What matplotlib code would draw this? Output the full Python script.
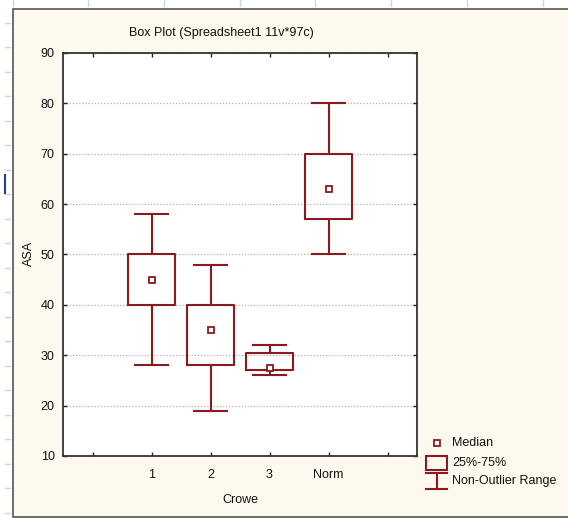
import matplotlib
matplotlib.use("Agg")
import matplotlib.pyplot as plt
from matplotlib.patches import Rectangle

plt.rcParams['font.family'] = ['Liberation Sans', 'DejaVu Sans']

# ---- data ----
categories = ['1', '2', '3', 'Norm']
whisker_low = [28, 19, 26, 50]
q1 = [40, 28, 27, 57]
median = [45, 35, 27.5, 63]
q3 = [50, 40, 30.4, 70]
whisker_high = [58, 48, 32, 80]
y_ticks = [10, 20, 30, 40, 50, 60, 70, 80, 90]
title = 'Box Plot (Spreadsheet1 11v*97c)'
x_label = 'Crowe'
y_label = 'ASA'
legend_labels = ['Median', '25%-75%', 'Non-Outlier Range']

RED = '#8b1a1e'
CREAM = '#fef9ee'
W, H = 568, 518

fig = plt.figure(figsize=(W / 100, H / 100), dpi=100)
fig.patch.set_facecolor('white')

# overlay axes in pixel coordinates for the panel decoration
bg = fig.add_axes([0, 0, 1, 1], zorder=0)
bg.set_xlim(0, W)
bg.set_ylim(H, 0)
bg.axis('off')
bg.add_patch(Rectangle((13, 9), W - 13 + 5, 516.5 - 9, facecolor=CREAM,
                       edgecolor='#555555', linewidth=1.2))
# ruler marks from the surrounding window
for yy in range(23, 516, 24):
    bg.plot([5, 10], [yy + (yy - 23) * 0.02, yy + (yy - 23) * 0.02], color='#c8d4e8', lw=1)
for xx in [13, 88, 164, 240, 315, 391, 467, 543]:
    bg.plot([xx, xx], [0, 6], color='#c8d4e8', lw=1)
bg.plot([5, 5], [175, 193], color='#1f3fa0', lw=1.5)

# main axes
L, T, R, B = 63, 53, 417, 456
ax = fig.add_axes([L / W, 1 - B / H, (R - L) / W, (B - T) / H], zorder=1)
ax.set_facecolor('white')

positions = list(range(1, len(categories) + 1))
stats = []
for i in range(len(categories)):
    stats.append(dict(med=median[i], q1=q1[i], q3=q3[i],
                      whislo=whisker_low[i], whishi=whisker_high[i],
                      fliers=[], label=categories[i]))
ax.bxp(stats, positions=positions, widths=0.8, capwidths=0.57,
       showfliers=False,
       boxprops=dict(color=RED, linewidth=1.5),
       whiskerprops=dict(color=RED, linewidth=1.5),
       capprops=dict(color=RED, linewidth=1.5),
       medianprops=dict(visible=False),
       manage_ticks=False, zorder=3)
ax.plot(positions, median, linestyle='none', marker='s', markersize=4.5,
        markerfacecolor='white', markeredgecolor=RED, markeredgewidth=1.3, zorder=4)

ax.set_xlim(-0.5, 5.5)
ax.set_ylim(10, 90)
ax.set_xticks(range(0, 6))
ax.set_xticklabels([''] + categories + [''])
ax.set_yticks(y_ticks)
ax.tick_params(direction='in', length=3, width=1, top=True, right=True,
               labelsize=9, color='#222222', labelcolor='#111111', pad=6)
ax.tick_params(axis='x', pad=9)
for s in ax.spines.values():
    s.set_color('#333333')
    s.set_linewidth(1.3)
ax.yaxis.grid(True, linestyle=(0, (1, 1.5)), color='#b0b0b0', linewidth=0.9)
ax.set_axisbelow(True)

# texts
fig.text(221 / W, 1 - 33 / H, title, ha='center', va='center', fontsize=9,
         color='#111111')
fig.text(240 / W, 1 - 500 / H, x_label, ha='center', va='center', fontsize=9,
         color='#111111')
fig.text(29 / W, 1 - 253 / H, y_label, ha='center', va='center', fontsize=9,
         rotation=90, color='#111111')

# legend (drawn in pixel coordinates)
bg2 = fig.add_axes([0, 0, 1, 1], zorder=2)
bg2.set_xlim(0, W)
bg2.set_ylim(H, 0)
bg2.axis('off')
bg2.plot([436.5], [443], linestyle='none', marker='s', markersize=4,
         markerfacecolor='white', markeredgecolor=RED, markeredgewidth=1.3)
bg2.add_patch(Rectangle((426, 456), 21, 14, facecolor='none', edgecolor=RED, lw=1.5))
bg2.plot([426, 447], [473, 473], color=RED, lw=1.5)
bg2.plot([426, 447], [489, 489], color=RED, lw=1.5)
bg2.plot([436.5, 436.5], [473, 489], color=RED, lw=1.5)
for yy, lab in zip([443, 463, 481], legend_labels):
    bg2.text(452, yy, lab, ha='left', va='center', fontsize=9, color='#111111')

fig.savefig('out.png', dpi=100)
